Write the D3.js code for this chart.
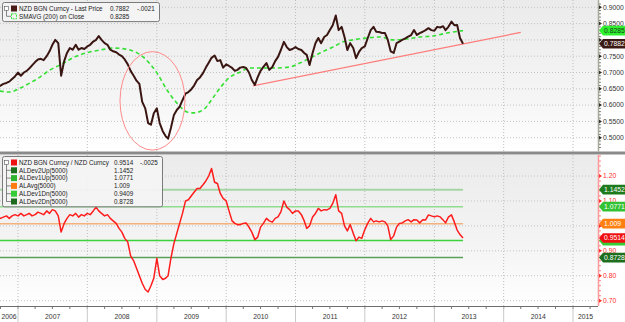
<!DOCTYPE html>
<meta charset="utf-8">
<body>
<svg id="chart"></svg>
<script src="https://d3js.org/d3.v7.min.js"></script>
<script>
// semi-monthly sample dates (1st and 16th) from Sep 2006 to Jun 2013
var priceDates = [];
d3.utcMonth.range(new Date(Date.UTC(2006, 8, 1)), new Date(Date.UTC(2013, 6, 1))).forEach(function(m) {
	priceDates.push(m, d3.utcDay.offset(m, 15));
});
priceDates = priceDates.filter(function(d) { return d >= new Date(Date.UTC(2006, 8, 16)) && d <= new Date(Date.UTC(2013, 5, 1)); });

// NZD BGN Curncy - Last Price
var lastPrice = [
	.655, .660, .665, .668, .672, .680, .688,
	.700, .690, .700, .705, .712, .722, .732, .740, .742, .738, .750, .765, .785, .800, .790, .690, .735, .760, .775, .770, .785, .770, .775, .772,
	.780, .785, .795, .800, .812, .800, .790, .785, .770, .765, .762, .755, .750, .740, .725, .705, .690, .675, .665, .610, .590, .545, .540, .575,
	.590, .545, .520, .505, .497, .530, .570, .585, .595, .615, .635, .640, .648, .660, .677, .685, .698, .715, .730, .745, .752, .735, .738, .715,
	.725, .720, .714, .705, .708, .715, .717, .714, .700, .677, .662, .686, .705, .717, .729, .708, .717, .735, .748, .769, .794, .778, .769, .772,
	.778, .772, .769, .760, .754, .723, .760, .790, .806, .790, .809, .815, .830, .845, .875, .830, .840, .809, .769, .790, .775, .744, .763, .775,
	.780, .805, .830, .840, .825, .824, .821, .821, .800, .765, .760, .790, .795, .800, .805, .810, .815, .830, .815, .821, .825, .830, .836, .830,
	.828, .840, .838, .842, .830, .840, .856, .845, .846, .806, .7882
];

// NZD BGN Curncy / NZD Curncy
var ratio = [
	1.035, 1.030, 1.035, 1.040, 1.030, 1.040, 1.045,
	1.040, 1.050, 1.040, 1.045, 1.050, 1.040, 1.045, 1.055, 1.050, 1.045, 1.060, 1.050, 1.065, 1.060, 1.040, 0.975, 1.010, 1.030, 1.045, 1.040, 1.050, 1.035, 1.045, 1.040,
	1.050, 1.045, 1.060, 1.075, 1.060, 1.050, 1.040, 1.045, 1.030, 1.020, 1.010, 0.990, 0.975, 0.950, 0.935, 0.880, 0.860, 0.830, 0.800, 0.770, 0.745, 0.735, 0.760, 0.790,
	0.870, 0.800, 0.785, 0.790, 0.800, 0.870, 0.930, 0.970, 1.010, 1.050, 1.100, 1.105, 1.120, 1.135, 1.150, 1.150, 1.165, 1.180, 1.200, 1.230, 1.175, 1.170, 1.130, 1.110,
	1.100, 1.060, 1.020, 1.010, 1.005, 1.005, 1.010, 1.012, 0.995, 0.975, 0.945, 0.955, 0.995, 1.010, 1.030, 1.020, 1.015, 1.030, 1.036, 1.056, 1.100, 1.075, 1.065, 1.050,
	1.060, 1.060, 1.045, 1.020, 0.990, 1.000, 1.036, 1.050, 1.070, 1.060, 1.065, 1.064, 1.070, 1.090, 1.125, 1.060, 1.050, 1.000, 0.980, 1.005, 0.970, 0.940, 0.955, 0.950,
	0.985, 1.010, 1.030, 1.016, 1.020, 1.016, 1.020, 1.016, 1.000, 0.945, 0.960, 0.995, 1.010, 1.012, 1.020, 1.025, 1.016, 1.025, 1.024, 1.012, 1.025, 1.024, 1.044, 1.040,
	1.036, 1.040, 1.036, 1.024, 1.012, 1.035, 1.044, 1.016, 0.983, 0.965, 0.9514
];

// SMAVG (200) on Close
var smaDates = ["2006-09-27", "2006-11-19", "2007-01-11", "2007-03-05", "2007-04-27", "2007-06-19", "2007-08-10", "2007-10-27",
	"2008-01-14", "2008-03-07", "2008-05-15", "2008-08-13", "2008-10-20", "2009-01-02", "2009-02-24", "2009-04-17", "2009-06-09",
	"2009-07-10", "2009-09-01", "2009-10-23", "2009-11-29", "2010-01-21", "2010-03-14", "2010-05-06", "2010-07-13", "2010-09-25",
	"2010-12-02", "2011-01-24", "2011-03-17", "2011-05-10", "2011-07-17", "2011-09-08", "2011-10-30", "2012-01-12", "2012-03-20",
	"2012-05-28", "2012-08-09", "2012-10-18", "2012-12-25", "2013-03-08", "2013-06-01"];
var smaValues = [0.643, 0.640, 0.652, 0.668, 0.686, 0.708, 0.723, 0.748,
	0.763, 0.769, 0.775, 0.769, 0.748, 0.698, 0.646, 0.606, 0.579,
	0.576, 0.585, 0.622, 0.652, 0.686, 0.701, 0.714, 0.714, 0.714,
	0.717, 0.729, 0.744, 0.760, 0.778, 0.794, 0.800, 0.806, 0.809,
	0.800, 0.803, 0.809, 0.812, 0.821, 0.8285];

// bands on the ratio
var bandNames = ["ALDev2Up(5000)", "ALDev1Up(5000)", "ALAvg(5000)", "ALDev1Dn(5000)", "ALDev2Dn(5000)"];
var bandValues = [1.1452, 1.0771, 1.009, 0.9409, 0.8728];
var bandLabels = ["1.1452", "1.0771", "1.009", "0.9409", "0.8728"];
var bandColors = ["#a6d6a6", "#8fdc8f", "#f6b27c", "#3bd23b", "#5a9e5a"];
var bandIcons = ["#1d6e1d", "#2fb42f", "#ff7a10", "#35cc35", "#1d6a1d"];
var bandTags = ["#1d7a1d", "#33c233", "#ff7f10", "#35cc35", "#1d6e1d"];

// trend line and circled area
var trendDates = ["2010-05-22", "2014-04-01"];
var trendValues = [0.659, 0.823];
var circleDates = ["2008-06-21", "2009-05-29"];
var circleValues = [0.462, 0.764];

var topTicks = [0.50, 0.55, 0.60, 0.65, 0.70, 0.75, 0.80, 0.85, 0.90];
var botTicks = [0.70, 0.80, 0.90, 1.00, 1.10, 1.20];
var years = [2006, 2007, 2008, 2009, 2010, 2011, 2012, 2013, 2014, 2015];

var width = 625, height = 322, plotRight = 598;
var parse = d3.utcParse("%Y-%m-%d");
var font = "'Liberation Sans', Arial, sans-serif";

var svg = d3.select("#chart").attr("width", width).attr("height", height);

var x = d3.scaleUtc()
	.domain([new Date(Date.UTC(2007, 0, 1)), new Date(Date.UTC(2015, 0, 1))])
	.range([18, 573]);
var yTop = d3.scaleLinear().domain([0.5, 0.9]).range([137.7, 7.3]);
var yBot = d3.scaleLinear().domain([0.7, 1.2]).range([300.7, 176]);

var panels = [{top: 0, bottom: 151.5}, {top: 155, bottom: 306}];

var defs = svg.append("defs");
var grad = defs.append("linearGradient").attr("id", "bg").attr("x1", 0).attr("x2", 0).attr("y1", 0).attr("y2", 1);
grad.append("stop").attr("offset", "0%").attr("stop-color", "#ebebeb");
grad.append("stop").attr("offset", "60%").attr("stop-color", "#f4f4f4");
grad.append("stop").attr("offset", "100%").attr("stop-color", "#ffffff");
panels.forEach(function(p, i) {
	defs.append("clipPath").attr("id", "clip" + i)
		.append("rect").attr("x", 0).attr("y", p.top).attr("width", plotRight).attr("height", p.bottom - p.top);
	svg.append("rect").attr("x", 0).attr("y", p.top).attr("width", plotRight).attr("height", p.bottom - p.top)
		.attr("fill", "url(#bg)");
});

// grid
var yearStarts = years.map(function(y) { return new Date(Date.UTC(y, 0, 1)); });
panels.forEach(function(p, i) {
	var g = svg.append("g").attr("clip-path", "url(#clip" + i + ")");
	g.selectAll("line.v").data(yearStarts).enter().append("line")
		.attr("x1", x).attr("x2", x).attr("y1", p.top).attr("y2", p.bottom)
		.attr("stroke", "#bdbdbd").attr("stroke-dasharray", "1,2");
	var ys = i === 0 ? yTop : yBot;
	g.selectAll("line.h").data(i === 0 ? topTicks : botTicks).enter().append("line")
		.attr("x1", 0).attr("x2", plotRight).attr("y1", ys).attr("y2", ys)
		.attr("stroke", "#c4c4c4").attr("stroke-dasharray", "1,2");
});

// top panel
var topG = svg.append("g").attr("clip-path", "url(#clip0)");
var priceLine = d3.line().x(function(d, i) { return x(priceDates[i]); }).y(function(d) { return yTop(d); });
var smaLine = d3.line().x(function(d, i) { return x(parse(smaDates[i])); }).y(function(d) { return yTop(d); }).curve(d3.curveMonotoneX);

topG.append("line")
	.attr("x1", x(parse(trendDates[0]))).attr("y1", yTop(trendValues[0]))
	.attr("x2", x(parse(trendDates[1]))).attr("y2", yTop(trendValues[1]))
	.attr("stroke", "#ff7b7b").attr("stroke-width", 1.2);
topG.append("path").datum(smaValues).attr("d", smaLine)
	.attr("fill", "none").attr("stroke", "#35e035").attr("stroke-width", 1.6).attr("stroke-dasharray", "4,3");
topG.append("path").datum(lastPrice).attr("d", priceLine)
	.attr("fill", "none").attr("stroke", "#3a1612").attr("stroke-width", 2).attr("stroke-linejoin", "round");
var cx0 = x(parse(circleDates[0])), cx1 = x(parse(circleDates[1]));
var cy0 = yTop(circleValues[1]), cy1 = yTop(circleValues[0]);
topG.append("ellipse")
	.attr("cx", (cx0 + cx1) / 2).attr("cy", (cy0 + cy1) / 2)
	.attr("rx", (cx1 - cx0) / 2).attr("ry", (cy1 - cy0) / 2)
	.attr("fill", "none").attr("stroke", "#ff8a8a").attr("stroke-width", 1);

// bottom panel
var botG = svg.append("g").attr("clip-path", "url(#clip1)");
var firstDate = priceDates[0], lastDate = priceDates[priceDates.length - 1];
botG.selectAll("line.band").data(bandValues).enter().append("line")
	.attr("x1", x(firstDate)).attr("x2", x(lastDate))
	.attr("y1", yBot).attr("y2", yBot)
	.attr("stroke", function(d, i) { return bandColors[i]; })
	.attr("stroke-width", function(d, i) { return i === 0 ? 2 : 1.5; });
var ratioLine = d3.line().x(function(d, i) { return x(priceDates[i]); }).y(function(d) { return yBot(d); });
botG.append("path").datum(ratio).attr("d", ratioLine)
	.attr("fill", "none").attr("stroke", "#ff1c1c").attr("stroke-width", 1.5).attr("stroke-linejoin", "round");

// panel separator
svg.append("rect").attr("x", 0).attr("y", 151.5).attr("width", width).attr("height", 3).attr("fill", "#8a8a8a");

// tag positions, used to leave covered axis labels out
var topTagYs = [yTop(smaValues[smaValues.length - 1]), yTop(lastPrice[lastPrice.length - 1])];
var botTagYs = bandValues.map(yBot).concat([yBot(ratio[ratio.length - 1])]);

// right axes
function rightAxis(scale, ticks, minorStep, fmt, color, lineColor, y0, y1, tagYs) {
	var g = svg.append("g");
	g.append("line").attr("x1", plotRight + 0.5).attr("x2", plotRight + 0.5).attr("y1", y0).attr("y2", y1)
		.attr("stroke", lineColor).attr("stroke-width", 1.5);
	var lo = scale.domain()[0] - 0.3, hi = scale.domain()[1] + 0.3;
	var minors = d3.range(Math.round(lo / minorStep), Math.round(hi / minorStep) + 1).map(function(k) { return k * minorStep; })
		.filter(function(v) { var yy = scale(v); return yy > y0 + 1 && yy < y1 - 1; });
	g.selectAll("line.m").data(minors).enter().append("line")
		.attr("x1", plotRight + 1).attr("x2", plotRight + 3).attr("y1", scale).attr("y2", scale)
		.attr("stroke", color).attr("stroke-width", 0.6);
	g.selectAll("path.t").data(ticks).enter().append("path")
		.attr("d", function(v) { var yy = scale(v); return "M" + (plotRight + 1) + "," + (yy - 2) + "L" + (plotRight + 4) + "," + yy + "L" + (plotRight + 1) + "," + (yy + 2) + "Z"; })
		.attr("fill", color);
	var shown = ticks.filter(function(v) {
		return tagYs.every(function(t) { return Math.abs(scale(v) - t) > 5.5; });
	});
	g.selectAll("text").data(shown).enter().append("text")
		.attr("x", plotRight + 5).attr("y", scale).attr("dy", "0.35em")
		.attr("font-family", font).attr("font-size", 6.8).attr("fill", color)
		.text(fmt);
}
rightAxis(yTop, topTicks, 0.01, d3.format(".4f"), "#333", "#a9a99a", 0, 151.5, topTagYs);
rightAxis(yBot, botTicks, 0.02, d3.format(".2f"), "#ff3030", "#ff9a9a", 155, 306, botTagYs);

function tag(y, text, bg, fg) {
	var g = svg.append("g");
	g.append("path")
		.attr("d", "M" + (plotRight + 1) + "," + y + "L" + (plotRight + 5) + "," + (y - 4.8) + "L" + width + "," + (y - 4.8) +
			"L" + width + "," + (y + 4.8) + "L" + (plotRight + 5) + "," + (y + 4.8) + "Z")
		.attr("fill", bg);
	if (text) g.append("text").attr("x", plotRight + 6).attr("y", y).attr("dy", "0.36em")
		.attr("font-family", font).attr("font-size", 6.8).attr("fill", fg).text(text);
}
tag(topTagYs[0], "0.8285", "#2ef02e", "#1a3a1a");
tag(topTagYs[1], "0.7882", "#3c1a14", "#ffffff");
// the 0.9409 tag sits under the red last-value tag, so only its edge shows
[0, 1, 2, 4, 3].forEach(function(i) {
	tag(botTagYs[i], i === 3 ? null : bandLabels[i], bandTags[i], "#ffffff");
});
tag(botTagYs[5], "0.9514", "#f01010", "#ffffff");

// bottom date axis
var axisY = 306;
svg.append("line").attr("x1", 0).attr("x2", plotRight).attr("y1", axisY + 0.5).attr("y2", axisY + 0.5)
	.attr("stroke", "#6e6e6e").attr("stroke-width", 1);
var quarters = d3.utcMonth.every(3).range(x.invert(0), x.invert(plotRight));
svg.selectAll("line.q").data(quarters).enter().append("line")
	.attr("x1", x).attr("x2", x).attr("y1", axisY + 1).attr("y2", axisY + 3)
	.attr("stroke", "#555").attr("stroke-width", 0.8);
svg.selectAll("line.yr").data(yearStarts.filter(function(d) { return x(d) > 0 && x(d) < plotRight; })).enter().append("line")
	.attr("x1", x).attr("x2", x).attr("y1", axisY + 1).attr("y2", height)
	.attr("stroke", "#c9c9c9").attr("stroke-width", 1);
svg.selectAll("text.yr").data(years).enter().append("text")
	.attr("x", function(y) {
		var a = Math.max(0, x(new Date(Date.UTC(y, 0, 1)))), b = Math.min(plotRight, x(new Date(Date.UTC(y + 1, 0, 1))));
		return (a + b) / 2;
	})
	.attr("y", 319).attr("text-anchor", "middle")
	.attr("font-family", font).attr("font-size", 6.8).attr("fill", "#333")
	.text(function(d) { return d; });

// legends
function legend(y0, w, rows) {
	var h = rows.length * 7.8 + 3.5;
	var g = svg.append("g");
	g.append("rect").attr("x", 2.5).attr("y", y0 + 0.5).attr("width", w).attr("height", h)
		.attr("rx", 2).attr("fill", "rgba(244,244,244,0.93)").attr("stroke", "#7a7a7a");
	var first = y0 + 6.5, last = y0 + 6.5 + (rows.length - 1) * 7.8;
	g.append("line").attr("x1", 6.5).attr("x2", 6.5).attr("y1", first).attr("y2", last).attr("stroke", "#555").attr("stroke-width", 0.7);
	g.append("rect").attr("x", 4.5).attr("y", first - 2).attr("width", 4).attr("height", 4)
		.attr("fill", "#fff").attr("stroke", "#555").attr("stroke-width", 0.6);
	rows.forEach(function(r, i) {
		var cy = first + i * 7.8;
		if (i > 0) g.append("line").attr("x1", 6.5).attr("x2", 11).attr("y1", cy).attr("y2", cy).attr("stroke", "#555").attr("stroke-width", 0.7);
		if (r.dashed) {
			g.append("rect").attr("x", 11.5).attr("y", cy - 2.5).attr("width", 5).attr("height", 5)
				.attr("fill", "none").attr("stroke", r.icon).attr("stroke-width", 1).attr("stroke-dasharray", "2,1");
		} else {
			g.append("rect").attr("x", 11).attr("y", cy - 3).attr("width", 6).attr("height", 6).attr("fill", r.icon);
		}
		var t = {x: 19, y: cy, size: 6.3};
		g.append("text").attr("x", t.x).attr("y", cy).attr("dy", "0.36em")
			.attr("font-family", font).attr("font-size", t.size).attr("fill", "#222").text(r.name);
		g.append("text").attr("x", r.vx).attr("y", cy).attr("dy", "0.36em")
			.attr("font-family", font).attr("font-size", t.size).attr("fill", "#222").text(r.value);
		if (r.change) g.append("text").attr("x", r.cx).attr("y", cy).attr("dy", "0.36em")
			.attr("font-family", font).attr("font-size", t.size).attr("fill", "#222").text(r.change);
	});
}
legend(2, 157, [
	{name: "NZD BGN Curncy - Last Price", value: "0.7882", change: "-.0021", icon: "#4a1a16", vx: 110, cx: 137},
	{name: "SMAVG (200) on Close", value: "0.8285", icon: "#35e035", dashed: true, vx: 110}
]);
var botRows = [{name: "NZD BGN Curncy / NZD Curncy", value: "0.9514", change: "-.0025", icon: "#ee1111", vx: 114, cx: 140}];
bandNames.forEach(function(n, i) { botRows.push({name: n, value: bandLabels[i], icon: bandIcons[i], vx: 114}); });
legend(156, 160, botRows);
</script>
<style>
	body { margin: 0; background: #fff; }
	svg { display: block; }
</style>
</body>
